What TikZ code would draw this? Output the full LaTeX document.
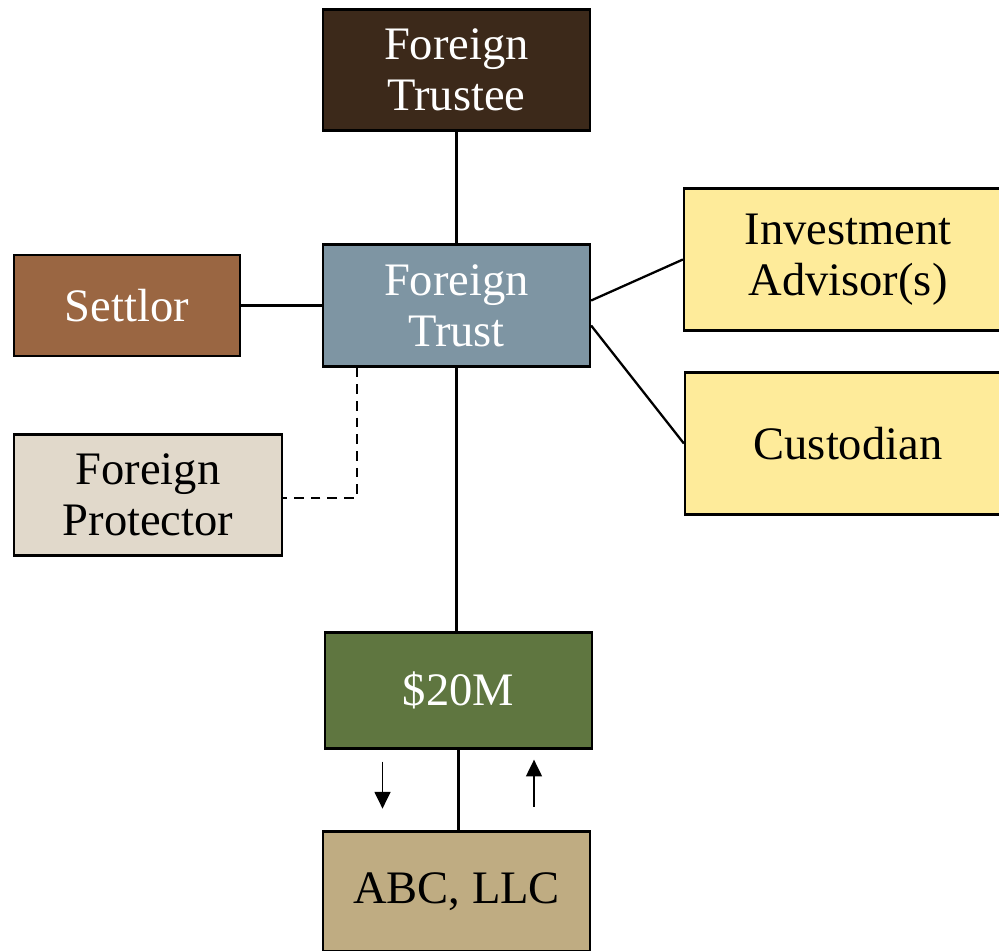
\documentclass[tikz,border=0pt]{standalone}
\usepackage{fontspec}
\setmainfont{Liberation Serif}
\usepackage{xcolor}
\usepackage{tikz}
\usetikzlibrary{arrows.meta,calc,positioning}
\definecolor{ftbrown}{RGB}{60,41,26}
\definecolor{ftblue}{RGB}{126,149,163}
\definecolor{ftrust}{RGB}{154,102,66}
\definecolor{ftsand}{RGB}{225,217,203}
\definecolor{ftyellow}{RGB}{254,235,154}
\definecolor{ftgreen}{RGB}{95,118,64}
\definecolor{fttan}{RGB}{191,172,130}

\begin{document}
\begin{tikzpicture}[
  x=0.02cm,y=-0.02cm,
  font=\fontsize{26.5}{29}\selectfont,
  box/.style={draw,line width=1.3pt,align=center,inner sep=0pt,minimum width=5.34cm,minimum height=2.42cm},
  darkbox/.style={box,text=white},
  link/.style={line width=1.3pt},
  flow/.style={-{Triangle[width=9pt,length=9.5pt]},line width=1pt}
]
  \useasboundingbox (0,0) rectangle (999,950);

  \node[darkbox,fill=ftbrown] (trustee) at (456.5,70) {Foreign\\Trustee};
  \node[darkbox,fill=ftblue,minimum height=2.44cm] (trust) at (456.5,305.5) {Foreign\\Trust};
  \node[darkbox,fill=ftrust,minimum width=4.52cm,minimum height=2.02cm] (settlor) at (127,305.5) {Settlor};
  \node[box,fill=ftsand,minimum width=5.36cm] (protector) at (148,495) {Foreign\\Protector};
  \node[box,fill=ftyellow,minimum width=6.56cm,minimum height=2.84cm] (advisor) at (848,259.5) {Investment\\Advisor(s)};
  \node[box,fill=ftyellow,minimum width=6.52cm,minimum height=2.84cm] (custodian) at (848,443.5) {Custodian};
  \node[darkbox,fill=ftgreen,minimum height=2.32cm] (money) at (458.5,690.5) {\$20M};
  \node[box,fill=fttan,minimum height=2.4cm] (abc) at (456.5,891.5) {ABC, LLC};

  \draw[link] (trustee) -- (trust);
  \draw[link] (settlor.east) -- (settlor.east -| trust.west);
  \draw[link] ($(trust.east)+(0,-5)$) -- (advisor.west);
  \draw[link] ($(trust.east)+(0,20)$) -- (custodian.west);
  \draw[link] (trust.south) -- (trust.south |- money.north);
  \draw[link,dash pattern=on 5.5pt off 4pt] ($(trust.south west)+(35,0)$) |- ($(protector.east)+(0,3)$);
  \draw[link] (money.south) -- (money.south |- abc.north);

  \coordinate (outtop) at ($(money.south)+(-76,12)$);
  \coordinate (outbot) at ($(money.south)+(-76,59)$);
  \coordinate (inbot) at ($(money.south)+(75.5,57)$);
  \coordinate (intop) at ($(money.south)+(75.5,10)$);
  \draw[flow] (outtop) -- (outbot);
  \draw[flow] (inbot) -- (intop);
\end{tikzpicture}
\end{document}
